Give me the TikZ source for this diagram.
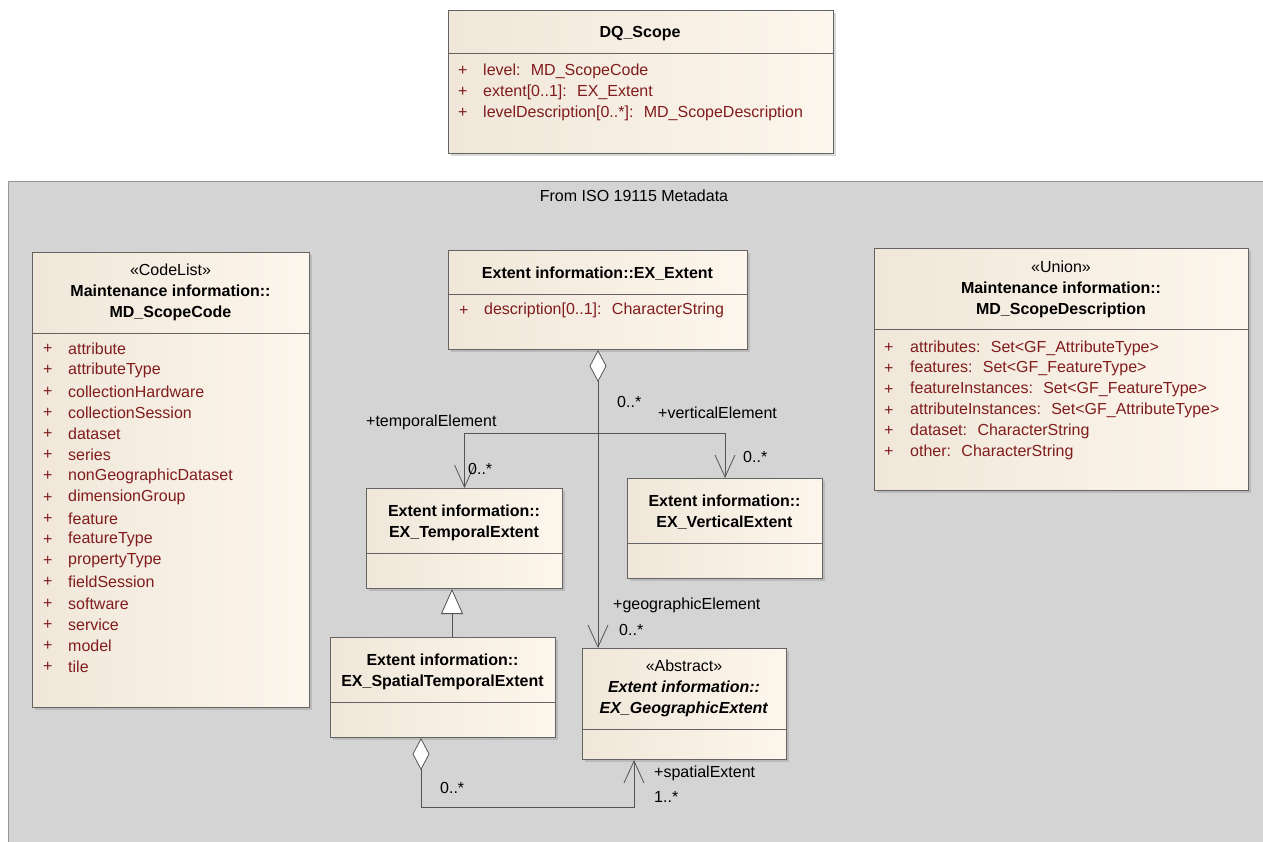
\documentclass[tikz,border=0pt]{standalone}
\usepackage{fontspec}
\setmainfont{Liberation Sans}
\usetikzlibrary{arrows.meta, shadows}

\definecolor{pkgfill}{RGB}{212,212,212}
\definecolor{pkgline}{RGB}{150,150,150}
\definecolor{boxleft}{RGB}{240,231,218}
\definecolor{boxright}{RGB}{253,246,236}
\definecolor{boxline}{RGB}{100,100,100}
\definecolor{attrred}{RGB}{128,28,28}
\definecolor{linkgray}{RGB}{85,85,85}

\newcommand{\umlfont}{\fontsize{16}{21}\selectfont}

\tikzset{
  classbox/.style={draw=boxline, line width=1pt, left color=boxleft, right color=boxright,
    anchor=north west, inner sep=0pt,
    drop shadow={shadow xshift=2pt, shadow yshift=-2pt, opacity=0.3}},
  pkgbox/.style={draw=pkgline, line width=1pt, fill=pkgfill, anchor=north west, inner sep=0pt},
  headtext/.style={font=\umlfont, align=center, inner sep=0pt},
  attrtext/.style={font=\umlfont, text=attrred, anchor=west, inner sep=0pt},
  labeltext/.style={font=\umlfont, anchor=west, inner sep=0pt},
  sepline/.style={draw=boxline, line width=1pt},
  link/.style={draw=linkgray, line width=0.8pt},
  navend/.style={-{Straight Barb[length=22pt, width=20pt]}},
  aggrnav/.style={{Diamond[fill=white, length=32pt, width=17pt]}-{Straight Barb[length=22pt, width=20pt]}},
  genend/.style={-{Triangle[fill=white, length=25pt, width=22pt]}}
}

\begin{document}
\begin{tikzpicture}[x=1pt, y=-1pt]
    \useasboundingbox (0,0) rectangle (1263,841);
    \fill[white] (0,0) rectangle (1263,841);

    \node[classbox, minimum width=385pt, minimum height=143pt] (dq) at (448,10) {};
    \draw[sepline] ([yshift=-43pt]dq.north west) -- ([yshift=-43pt]dq.north east);
    \node[headtext] (dq-name) at (640,34) {\textbf{DQ\_Scope}};
    \foreach \attr [count=\i from 0] in {level:~ MD\_ScopeCode, extent[0..1]:~ EX\_Extent, levelDescription[0..*]:~ MD\_ScopeDescription} {
        \node[attrtext] (dq-plus-\i) at (458, 71+21*\i) {+};
        \node[attrtext] (dq-attr-\i) at (483, 71+21*\i) {\attr};
    }

    \node[pkgbox, minimum width=1270pt, minimum height=680pt] (pkg) at (8,181) {};
    \node[headtext] (pkg-name) at (634,196) {From ISO 19115 Metadata};

    \node[classbox, minimum width=277pt, minimum height=455pt] (code) at (32,252) {};
    \draw[sepline] ([yshift=-81pt]code.north west) -- ([yshift=-81pt]code.north east);
    \node[headtext] (code-name) at (170.5,292.5) {«CodeList»\\ \textbf{Maintenance information::}\\ \textbf{MD\_ScopeCode}};
    \foreach \attr [count=\i from 0] in {attribute, attributeType, collectionHardware, collectionSession, dataset, series, nonGeographicDataset, dimensionGroup, feature, featureType, propertyType, fieldSession, software, service, model, tile} {
        \node[attrtext] (code-plus-\i) at (43, 349+21.2*\i) {+};
        \node[attrtext] (code-attr-\i) at (68, 349+21.2*\i) {\attr};
    }

    \node[classbox, minimum width=299pt, minimum height=99pt] (ext) at (448,250) {};
    \draw[sepline] ([yshift=-44pt]ext.north west) -- ([yshift=-44pt]ext.north east);
    \node[headtext] (ext-name) at (597.5,274) {\textbf{Extent information::EX\_Extent}};
    \node[attrtext] (ext-plus-0) at (459,310.5) {+};
    \node[attrtext] (ext-attr-0) at (484,310.5) {description[0..1]:~ CharacterString};

    \node[classbox, minimum width=374pt, minimum height=242pt] (scope) at (874,248) {};
    \draw[sepline] ([yshift=-81pt]scope.north west) -- ([yshift=-81pt]scope.north east);
    \node[headtext] (scope-name) at (1061,289.5) {«Union»\\ \textbf{Maintenance information::}\\ \textbf{MD\_ScopeDescription}};
    \foreach \attr [count=\i from 0] in {attributes:~ Set<GF\_AttributeType>, features:~ Set<GF\_FeatureType>, featureInstances:~ Set<GF\_FeatureType>, attributeInstances:~ Set<GF\_AttributeType>, dataset:~ CharacterString, other:~ CharacterString} {
        \node[attrtext] (scope-plus-\i) at (884, 348+20.8*\i) {+};
        \node[attrtext] (scope-attr-\i) at (910, 348+20.8*\i) {\attr};
    }

    \node[classbox, minimum width=196pt, minimum height=100pt] (temp) at (366,488) {};
    \draw[sepline] ([yshift=-65pt]temp.north west) -- ([yshift=-65pt]temp.north east);
    \node[headtext] (temp-name) at (464,522.5) {\textbf{Extent information::}\\ \textbf{EX\_TemporalExtent}};

    \node[classbox, minimum width=195pt, minimum height=100pt] (vert) at (627,478) {};
    \draw[sepline] ([yshift=-65pt]vert.north west) -- ([yshift=-65pt]vert.north east);
    \node[headtext] (vert-name) at (724.5,512.5) {\textbf{Extent information::}\\ \textbf{EX\_VerticalExtent}};

    \node[classbox, minimum width=225pt, minimum height=100pt] (st) at (330,637) {};
    \draw[sepline] ([yshift=-65pt]st.north west) -- ([yshift=-65pt]st.north east);
    \node[headtext] (st-name) at (442.5,671.5) {\textbf{Extent information::}\\ \textbf{EX\_SpatialTemporalExtent}};

    \node[classbox, minimum width=204pt, minimum height=111pt] (geo) at (582,648) {};
    \draw[sepline] ([yshift=-81pt]geo.north west) -- ([yshift=-81pt]geo.north east);
    \node[headtext] (geo-name) at (684,688) {«Abstract»\\ \textbf{\textit{Extent information::}}\\ \textbf{\textit{EX\_GeographicExtent}}};

    \draw[link, aggrnav] (ext.south) -- (ext.south |- geo.north);
    \coordinate (fork) at ([yshift=-83pt]ext.south);
    \draw[link, navend] (fork) -| (temp.north);
    \draw[link, navend] (fork) -| (vert.north);
    \draw[link, genend] ([xshift=9pt]st.north) -- ([xshift=9pt]st.north |- temp.south);
    \coordinate (loop) at ([yshift=-69pt]st.south);
    \draw[link, aggrnav] ([xshift=-22pt]st.south) |- ([xshift=52pt]geo.south west |- loop) -- ([xshift=52pt]geo.south west);

    \node[labeltext] (temp-role) at (366,422) {+temporalElement};
    \node[labeltext] (temp-mult) at (468,469) {0..*};
    \node[labeltext] (ext-mult) at (617,402) {0..*};
    \node[labeltext] (vert-role) at (658,413) {+verticalElement};
    \node[labeltext] (vert-mult) at (743,457) {0..*};
    \node[labeltext] (geo-role) at (613,605) {+geographicElement};
    \node[labeltext] (geo-mult) at (619,630) {0..*};
    \node[labeltext] (st-mult) at (440,788) {0..*};
    \node[labeltext] (sp-role) at (654,773) {+spatialExtent};
    \node[labeltext] (sp-mult) at (654,797) {1..*};

\end{tikzpicture}
\end{document}
